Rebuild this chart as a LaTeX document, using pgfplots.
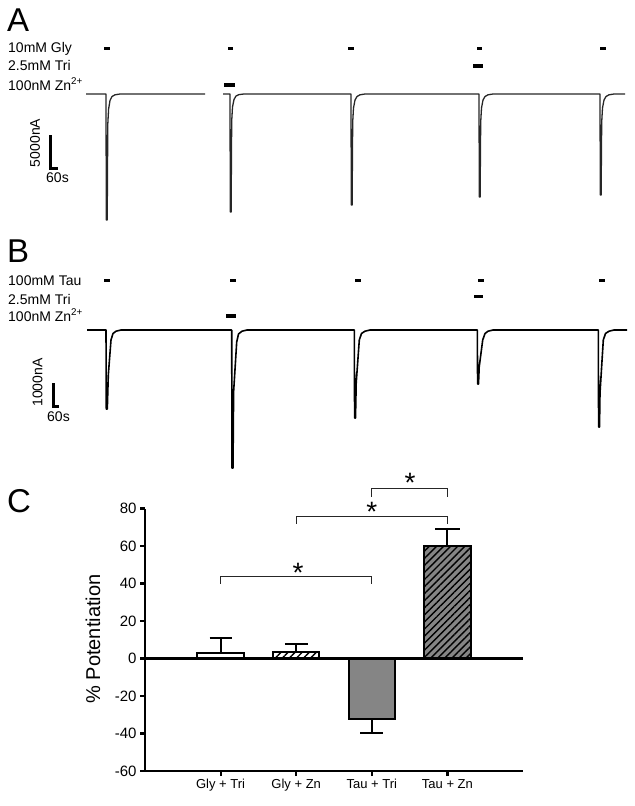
\documentclass[border=0pt]{standalone}
\usepackage{fontspec}
\setmainfont{Liberation Sans}
\usepackage{pgfplots}
\pgfplotsset{compat=1.18}
\usetikzlibrary{patterns.meta}
\newcommand\sm{\fontsize{14bp}{16bp}\selectfont}
\newcommand\panelfont{\fontsize{33bp}{36bp}\selectfont}
\definecolor{BarGray}{HTML}{858585}
\tikzset{hatch/.style={postaction={pattern={Lines[angle=45,distance=5bp,line width=1.4bp]}}}}

\begin{document}
\begin{tikzpicture}[x=1bp,y=1bp]
\path[use as bounding box] (0,0) rectangle (635,-806);

% ---------- A: glycine traces (units: px along, px below baseline)
\begin{axis}[at={(0bp,-234bp)},anchor=south west,x=1bp,y=1bp,
  xmin=0,xmax=635,ymin=-140,ymax=60,hide axis,clip=false,
  unbounded coords=jump]
\addplot[black!85,line width=1.3bp,line join=round] coordinates {
  (86,0)(106,0)(106.3,-126)(107.2,-126)(107.8,-30)(108.6,-15)(110,-6.5)(112,-2.5)(115,-0.8)(120,0)(205,0)(nan,nan)
  (223,0)(230,0)(230.3,-118)(231.1,-118)(231.7,-27)(232.5,-13)(234,-5.5)(236,-2)(239,-0.6)(244,0)
  (351,0)(351.3,-111)(352.1,-111)(352.7,-28)(353.5,-14)(355,-6)(357,-2.5)(360,-0.8)(365,0)
  (479,0)(479.3,-103)(480.1,-103)(480.7,-28)(481.5,-14)(483,-6)(485,-2.5)(488,-0.8)(493,0)
  (600,0)(600.3,-101)(601.1,-101)(601.7,-28)(602.5,-14)(604,-6)(606,-2.5)(609,-0.8)(614,0)(625,0)};
% application bars
\addplot[line width=3bp] coordinates {(104,46)(110,46)(nan,nan)(228,46)(233,46)(nan,nan)
  (348,46)(354,46)(nan,nan)(477,46)(482,46)(nan,nan)(600,46)(606,46)};
\addplot[line width=3.5bp] coordinates {(473,28)(483,28)};
\addplot[line width=3.5bp] coordinates {(224,9)(235,9)};
% scale bar
\addplot[line width=3bp] coordinates {(50,-41)(50,-74)(58,-74)};
\end{axis}

% ---------- B: taurine traces
\begin{axis}[at={(0bp,-480bp)},anchor=south west,x=1bp,y=1bp,
  xmin=0,xmax=635,ymin=-150,ymax=60,hide axis,clip=false,
  unbounded coords=jump]
\addplot[black,line width=1.6bp,line join=round] coordinates {
  (87,0)(106,0)(106.3,-79)(107.3,-79)(108.3,-45)(111,-10)(113,-3.5)(116,-1.2)(121,0)
  (231.7,0)(232,-138)(233,-138)(233.6,-62)(236.7,-12)(238.5,-4)(242,-1.2)(247,0)
  (354.3,0)(354.6,-88)(355.5,-88)(356.2,-53)(359.3,-10)(361.5,-3.5)(365,-1.2)(370,0)
  (477.3,0)(477.6,-54)(478.5,-54)(479.2,-37)(482.7,-10)(485,-3.5)(488,-1.2)(493,0)
  (598.3,0)(598.6,-97)(599.5,-97)(600,-63)(603.3,-10)(605.5,-3.5)(609,-1.2)(614,0)(627,0)};
\addplot[line width=3bp] coordinates {(104,50)(110,50)(nan,nan)(230,50)(236,50)(nan,nan)
  (355,50)(361,50)(nan,nan)(478,50)(484,50)(nan,nan)(599,50)(605,50)};
\addplot[line width=3.5bp] coordinates {(474,33.3)(483,33.3)};
\addplot[line width=3.5bp] coordinates {(226,14)(236,14)};
\addplot[line width=3bp] coordinates {(53,-53)(53,-76)(59,-76)};
\end{axis}

% ---------- C: potentiation bar chart
\begin{axis}[at={(145bp,-771bp)},anchor=south west,x=75.6bp,y=1.875bp,
  xmin=0,xmax=5,ymin=-60,ymax=80,
  axis x line*=bottom,axis y line*=left,
  axis line style={line width=2.8bp},
  ytick={-60,-40,...,80},xtick={1,2,3,4},
  xticklabels={Gly + Tri,Gly + Zn,Tau + Tri,Tau + Zn},
  tick align=outside,major tick length=5bp,
  tick style={line width=2.2bp,black},
  /pgf/number format/assume math mode=true,
  yticklabel style={font=\fontsize{15bp}{17bp}\selectfont},
  xticklabel style={font=\fontsize{13bp}{15bp}\selectfont},
  clip=false,unbounded coords=jump]
\addplot[ybar,bar width=0.615,bar shift=0pt,draw=black,line width=2bp,fill=white] coordinates {(1,3)};
\addplot[ybar,bar width=0.615,bar shift=0pt,draw=black,line width=2bp,fill=white,hatch] coordinates {(2,3.5)};
\addplot[ybar,bar width=0.615,bar shift=0pt,draw=black,line width=2bp,fill=BarGray] coordinates {(3,-32.4)};
\addplot[ybar,bar width=0.615,bar shift=0pt,draw=black,line width=2bp,fill=BarGray,hatch] coordinates {(4,59.9)};
% error bars (SEM)
\addplot[line width=2bp] coordinates {(1,3)(1,11)(nan,nan)(0.855,11)(1.145,11)};
\addplot[line width=2bp] coordinates {(2,3.5)(2,8)(nan,nan)(1.85,8)(2.15,8)};
\addplot[line width=2bp] coordinates {(3,-32.4)(3,-39.7)(nan,nan)(2.85,-39.7)(3.15,-39.7)};
\addplot[line width=2bp] coordinates {(4,59.9)(4,69.3)(nan,nan)(3.84,69.3)(4.16,69.3)};
% zero line
\addplot[line width=2.8bp] coordinates {(0,0)(5,0)};
% significance brackets
\addplot[line width=1bp,black!85] coordinates {(1,40)(1,44)(3,44)(3,40)};
\addplot[line width=1bp,black!85] coordinates {(2,72)(2,76)(4,76)(4,72)};
\addplot[line width=1bp,black!85] coordinates {(3,86.2)(3,90.7)(4,90.7)(4,86.2)};
\end{axis}

% ---------- text
\node[anchor=base west,font=\panelfont,inner sep=0] at (7,-32) {A};
\node[anchor=base west,font=\panelfont,inner sep=0] at (7,-262) {B};
\node[anchor=base west,font=\panelfont,inner sep=0] at (7,-512) {C};

\node[anchor=base west,font=\sm,inner sep=0] at (8,-53) {10mM Gly};
\node[anchor=base west,font=\sm,inner sep=0] at (8,-71) {2.5mM Tri};
\node[anchor=base west,font=\sm,inner sep=0] at (8,-90) {100nM Zn\textsuperscript{2+}};
\node[rotate=90,font=\sm] at (35,-143) {5000nA};
\node[font=\sm] at (57.5,-177.5) {60s};

\node[anchor=base west,font=\sm,inner sep=0] at (8,-285) {100mM Tau};
\node[anchor=base west,font=\sm,inner sep=0] at (8,-304) {2.5mM Tri};
\node[anchor=base west,font=\sm,inner sep=0] at (8,-321) {100nM Zn\textsuperscript{2+}};
\node[rotate=90,font=\sm] at (37.5,-382.5) {1000nA};
\node[font=\sm] at (58.5,-417) {60s};

\node[rotate=90,font=\fontsize{20bp}{22bp}\selectfont] at (93,-639) {\% Potentiation};
\node[anchor=base,font=\fontsize{28bp}{30bp}\selectfont,inner sep=0] at (298,-582.7) {*};
\node[anchor=base,font=\fontsize{28bp}{30bp}\selectfont,inner sep=0] at (371.7,-521.7) {*};
\node[anchor=base,font=\fontsize{28bp}{30bp}\selectfont,inner sep=0] at (410,-492.7) {*};
\end{tikzpicture}
\end{document}
